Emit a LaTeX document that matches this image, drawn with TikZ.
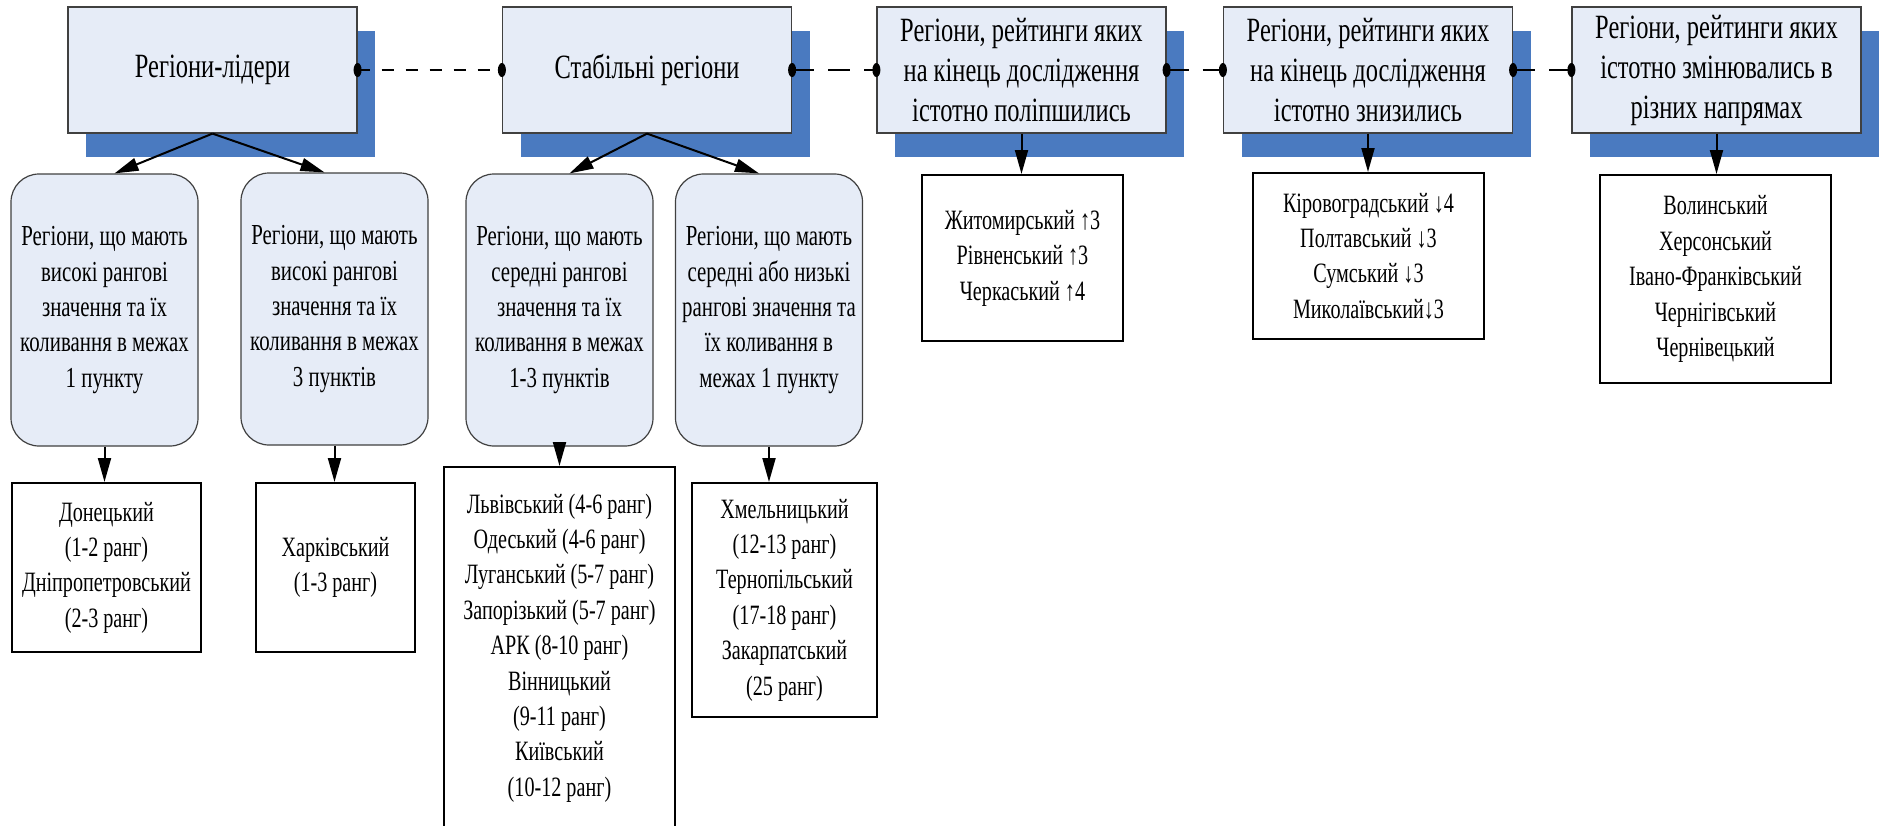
\documentclass[tikz,border=0pt]{standalone}
\usepackage{fontspec}
\setmainfont{Liberation Serif}[FakeStretch=0.72]
\usetikzlibrary{arrows.meta, shadows}

\definecolor{boxfill}{HTML}{E6ECF7}
\definecolor{shadowblue}{HTML}{4A7AC0}
\definecolor{boxline}{HTML}{404040}

\begin{document}
\begin{tikzpicture}[x=0.5pt, y=-0.5pt,
	headbox/.style={draw=boxline, line width=0.6pt, fill=boxfill, align=center, inner sep=0pt,
		minimum width=144.5pt, minimum height=63pt, font=\fontsize{17}{20}\selectfont,
		drop shadow={shadow xshift=9pt, shadow yshift=-12pt, fill=shadowblue, opacity=1}},
	roundbox/.style={draw=boxline, line width=0.6pt, fill=boxfill, rounded corners=14pt, align=center,
		inner sep=0pt, minimum width=93.5pt, minimum height=136pt, font=\fontsize{14.5}{17.7}\selectfont},
	listbox/.style={draw, line width=1pt, fill=white, align=center, inner sep=0pt,
		font=\fontsize{14}{17.7}\selectfont},
	arr/.style={-{Triangle[length=12pt, width=6.5pt]}, line width=1pt},
	link/.style={line width=1pt, dash pattern=on 11pt off 7pt}]
	\useasboundingbox (0,0) rectangle (1880,825);

	% groups of regions
	\node[headbox] (lead) at (212.5,70) {Регіони-лідери};
	\node[headbox] (stab) at (647,70) {Стабільні регіони};
	\node[headbox] (up) at (1021.5,70) {Регіони, рейтинги яких\\на кінець дослідження\\істотно поліпшились};
	\node[headbox] (down) at (1368,70) {Регіони, рейтинги яких\\на кінець дослідження\\істотно знизились};
	\node[headbox] (mixed) at (1716.5,70) {Регіони, рейтинги яких\\істотно змінювались в\\різних напрямах};

	% subgroups
	\node[roundbox] (ra) at (104.5,310) {Регіони, що мають\\високі рангові\\значення та їх\\коливання в межах\\1 пункту};
	\node[roundbox] (rb) at (334.5,309) {Регіони, що мають\\високі рангові\\значення та їх\\коливання в межах\\3 пунктів};
	\node[roundbox] (rc) at (559.5,310) {Регіони, що мають\\середні рангові\\значення та їх\\коливання в межах\\1-3 пунктів};
	\node[roundbox] (rd) at (769,310) {Регіони, що мають\\середні або низькі\\рангові значення та\\їх коливання в\\межах 1 пункту};

	% lists of regions
	\node[listbox, minimum width=94.5pt, minimum height=84.5pt] (la) at (106.5,567.5) {Донецький\\(1-2 ранг)\\Дніпропетровський\\(2-3 ранг)};
	\node[listbox, minimum width=79.5pt, minimum height=84.5pt] (lb) at (335.5,567.5) {Харківський\\(1-3 ранг)};
	\node[listbox, minimum width=115.5pt, minimum height=181pt] (lc) at (559.5,648) {Львівський (4-6 ранг)\\Одеський (4-6 ранг)\\Луганський (5-7 ранг)\\Запорізький (5-7 ранг)\\АРК (8-10 ранг)\\Вінницький\\(9-11 ранг)\\Київський\\(10-12 ранг)};
	\node[listbox, minimum width=92.5pt, minimum height=117pt] (ld) at (784.5,600) {Хмельницький\\(12-13 ранг)\\Тернопільський\\(17-18 ранг)\\Закарпатський\\(25 ранг)};
	\node[listbox, minimum width=100.5pt, minimum height=83pt] (ua) at (1022.5,258) {Житомирський ↑3\\Рівненський ↑3\\Черкаський ↑4};
	\node[listbox, minimum width=115.5pt, minimum height=83pt] (da) at (1368.5,256) {Кіровоградський ↓4\\Полтавський ↓3\\Сумський ↓3\\Миколаївський↓3};
	\node[listbox, minimum width=115.5pt, minimum height=104pt] (ma) at (1715.5,279) {Волинський\\Херсонський\\Івано-Франківський\\Чернігівський\\Чернівецький};

	% links between groups
	\draw[link, dash pattern=on 6pt off 6pt] (lead.east) -- (stab.west);
	\foreach \a/\b in {stab/up, up/down, down/mixed}
		\draw[link] (\a.east) -- (\b.west);
	\foreach \n in {lead.east, stab.west, stab.east, up.west, up.east, down.west, down.east, mixed.west}
		\fill (\n) ellipse (2pt and 3.5pt);

	% arrows
	\draw[arr] (lead.south) -- ([xshift=5pt]ra.north);
	\draw[arr] (lead.south) -- ([xshift=-5pt]rb.north);
	\draw[arr] (stab.south) -- ([xshift=5pt]rc.north);
	\draw[arr] (stab.south) -- ([xshift=-5pt]rd.north);
	\foreach \a/\b in {up/ua, down/da, mixed/ma, ra/la, rb/lb, rc/lc, rd/ld}
		\draw[arr] (\a.south) -- (\a.south |- \b.north);
\end{tikzpicture}
\end{document}
